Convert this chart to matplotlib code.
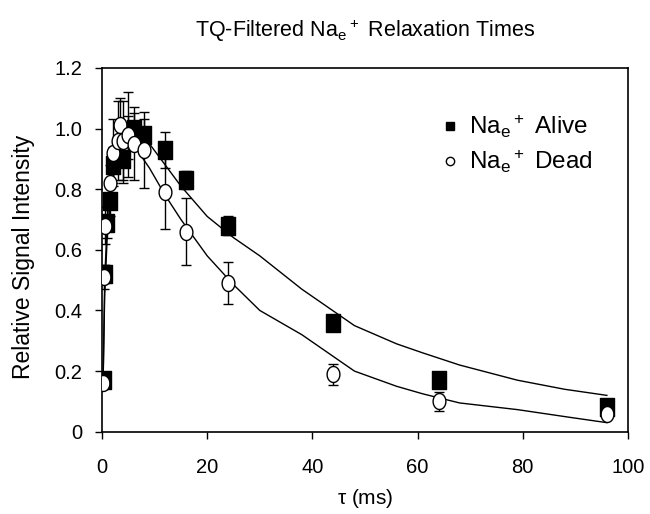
import numpy as np
import matplotlib
matplotlib.use("Agg")
import matplotlib.pyplot as plt
from matplotlib.path import Path
from matplotlib.lines import Line2D

plt.rcParams['font.family'] = ['Liberation Sans', 'DejaVu Sans']
plt.rcParams['mathtext.default'] = 'regular'

# ---- data ----
alive_x = [0.3, 0.5, 1, 1.5, 2, 4, 5, 6, 8, 12, 16, 24, 44, 64, 96]
alive_y = [0.17, 0.52, 0.69, 0.76, 0.88, 0.90, 0.97, 1.00, 0.98, 0.93, 0.83, 0.68, 0.36, 0.17, 0.08]
alive_err = [0.02, 0.03, 0.05, 0.05, 0.06, 0.08, 0.07, 0.05, 0.05, 0.06, 0.03, 0.03, 0.02, 0.01, 0.01]

dead_x = [0.2, 0.3, 0.6, 1.5, 2, 3, 3.5, 4, 5, 6, 8, 12, 16, 24, 44, 64, 96]
dead_y = [0.16, 0.51, 0.68, 0.82, 0.92, 0.96, 1.01, 0.96, 0.98, 0.95, 0.93, 0.79, 0.66, 0.49, 0.19, 0.10, 0.06]
dead_err = [0.02, 0.04, 0.06, 0.06, 0.11, 0.13, 0.09, 0.13, 0.14, 0.12, 0.125, 0.12, 0.11, 0.07, 0.035, 0.03, 0.01]

fit_x = [0.2, 0.5, 1, 2, 3, 4, 5, 6, 7, 9, 12, 15, 20, 25, 30, 38, 48, 56, 61, 68, 79, 88, 96]
alive_fit = [0.17, 0.45, 0.65, 0.83, 0.91, 0.95, 0.97, 0.975, 0.97, 0.95, 0.88, 0.81, 0.71, 0.64, 0.58,
             0.47, 0.35, 0.29, 0.26, 0.22, 0.17, 0.14, 0.12]
dead_fit = [0.16, 0.50, 0.70, 0.88, 0.95, 0.98, 0.98, 0.96, 0.92, 0.87, 0.78, 0.70, 0.58, 0.485, 0.40,
            0.32, 0.20, 0.15, 0.125, 0.095, 0.073, 0.05, 0.03]

x_ticks = [0, 20, 40, 60, 80, 100]
y_ticks = [0, 0.2, 0.4, 0.6, 0.8, 1.0, 1.2]
y_ticklabels = ['0', '0.2', '0.4', '0.6', '0.8', '1.0', '1.2']

# custom slightly tall markers
rect = Path([(-0.39, -0.5), (0.39, -0.5), (0.39, 0.5), (-0.39, 0.5), (-0.39, -0.5)], closed=True)
th = np.linspace(0, 2 * np.pi, 80)
ell = Path(np.column_stack([0.8 * np.cos(th), np.sin(th)]), closed=True)

fig = plt.figure(figsize=(6.5, 5.14), dpi=100)
ax = fig.add_axes([0.157, 0.160, 0.809, 0.708])

ax.plot(fit_x, alive_fit, color='black', lw=1.0, zorder=2)
ax.plot(fit_x, dead_fit, color='black', lw=1.0, zorder=2)

ax.errorbar(alive_x, alive_y, yerr=alive_err, fmt='none', ecolor='black', elinewidth=1.0,
            capsize=3.5, capthick=1.0, zorder=3)
ax.plot(alive_x, alive_y, linestyle='none', marker=rect, markersize=13.5,
        markerfacecolor='black', markeredgecolor='black', zorder=4)

ax.errorbar(dead_x, dead_y, yerr=dead_err, fmt='none', ecolor='black', elinewidth=1.0,
            capsize=3.5, capthick=1.0, zorder=5)
ax.plot(dead_x, dead_y, linestyle='none', marker=ell, markersize=11.5,
        markerfacecolor='white', markeredgecolor='black', markeredgewidth=1.0, zorder=6)

ax.set_xlim(0, 100)
ax.set_ylim(0, 1.2)
ax.set_xticks(x_ticks)
ax.set_yticks(y_ticks)
ax.set_yticklabels(y_ticklabels)
ax.tick_params(direction='out', length=5, width=1, labelsize=14.5, colors='black')
ax.tick_params(axis='x', pad=14)
ax.tick_params(axis='y', pad=9)
ax.tick_params(top=False, right=False)
for s in ax.spines.values():
    s.set_linewidth(1.2)

ax.set_xlabel(r'$\tau$ (ms)', fontsize=15, labelpad=7)
ax.set_ylabel('Relative Signal Intensity', fontsize=16.5, labelpad=14, y=0.48)
ax.set_title(r'TQ-Filtered Na$_e$$^+$ Relaxation Times', fontsize=15.5, pad=22)

handles = [Line2D([], [], linestyle='none', marker='s', markersize=6, markerfacecolor='black',
                  markeredgecolor='black'),
           Line2D([], [], linestyle='none', marker='o', markersize=6, markerfacecolor='white',
                  markeredgecolor='black')]
ax.legend(handles, [r'Na$_e$$^+$ Alive', r'Na$_e$$^+$ Dead'], loc='upper left',
          bbox_to_anchor=(0.64, 0.875), frameon=False, fontsize=17.5, handletextpad=0.37,
          labelspacing=0.34, handlelength=0.9, borderaxespad=0, borderpad=0)

fig.savefig('out.png', dpi=100)
